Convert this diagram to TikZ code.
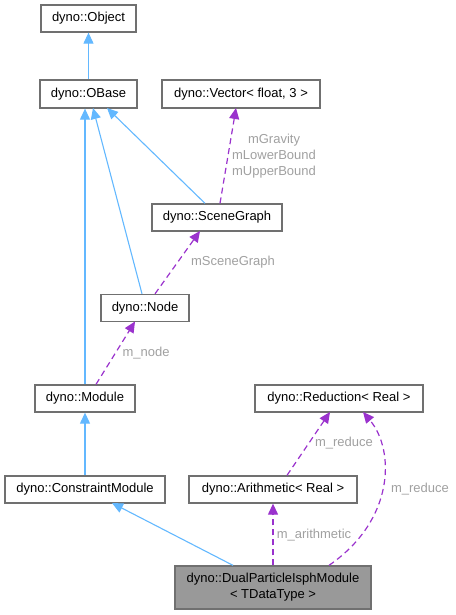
\documentclass[tikz,border=0pt]{standalone}
\usepackage{fontspec}
\setmainfont{Liberation Sans}
\usetikzlibrary{arrows.meta}
\definecolor{inh}{HTML}{63B8FF}
\definecolor{usg}{HTML}{9A32CD}
\definecolor{lbl}{HTML}{A0A0A0}
\definecolor{bord}{HTML}{707070}
\definecolor{cur}{HTML}{999999}
\tikzset{
  cls/.style={draw=bord, line width=1.3pt, fill=white, inner sep=0pt, font=\fontsize{13}{15}\selectfont, text=black},
  inhline/.style={draw=inh, line width=1.1pt, -{Triangle[length=11pt,width=10pt]}},
  useline/.style={draw=usg, line width=1.2pt, dash pattern=on 6pt off 4pt, -{Triangle[length=11pt,width=10pt]}},
  lab/.style={text=lbl, font=\fontsize{13}{16}\selectfont, inner sep=0pt, align=center}
}
\begin{document}
\begin{tikzpicture}[x=1pt,y=-1pt]
\useasboundingbox (0,0) rectangle (455,615);
\node[cls, minimum width=95pt, minimum height=27pt] (obj) at (88.5,18.5) {dyno::Object};
\node[cls, minimum width=97pt, minimum height=28pt] (obase) at (88.5,94) {dyno::OBase};
\node[cls, minimum width=158pt, minimum height=28pt] (vec) at (241,94) {dyno::Vector< float, 3 >};
\node[cls, minimum width=130pt, minimum height=27pt] (sg) at (217,217.5) {dyno::SceneGraph};
\node[cls, minimum width=88pt, minimum height=27pt] (nd) at (145,308) {dyno::Node};
\node[cls, minimum width=100pt, minimum height=27pt] (mod) at (85,398.5) {dyno::Module};
\node[cls, minimum width=168pt, minimum height=27pt] (red) at (339,398.5) {dyno::Reduction< Real >};
\node[cls, minimum width=160pt, minimum height=27pt] (cm) at (85,489.5) {dyno::ConstraintModule};
\node[cls, minimum width=168pt, minimum height=27pt] (ar) at (273,489.5) {dyno::Arithmetic< Real >};
\node[cls, fill=cur, minimum width=196pt, minimum height=43pt, align=center, font=\fontsize{13}{16}\selectfont] (dual) at (273,587.5) {dyno::DualParticleIsphModule\\< TDataType >};

% inheritance
\draw[inhline] (obase.north) -- (obj.south);
\draw[inhline] (mod.north) -- (mod.north |- obase.south);
\draw[inhline] (nd.north -| 142,0) -- (93,108);
\draw[inhline] (sg.north -| 205,0) -- (107,108);
\draw[inhline] (cm.north) -- (mod.south);
\draw[inhline] (dual.north -| 233,0) -- (112,503);

% usage
\draw[useline] (sg.north -| 220,0) -- (236,108);
\node[lab] (l1) at (274,156) {mGravity\\mLowerBound\\mUpperBound};
\draw[useline] (nd.north -| 155,0) -- (200,231);
\node[lab] (l2) at (233,262.5) {mSceneGraph};
\draw[useline] (mod.north -| 96,0) -- (135,321.5);
\node[lab] (l3) at (146,353.5) {m\_node};
\draw[useline] (dual.north) -- (ar.south);
\node[lab] (l4) at (314,535) {m\_arithmetic};
\draw[useline] (ar.north -| 287,0) -- (330,412);
\node[lab] (l5) at (344,443) {m\_reduce};
\draw[useline] (dual.north -| 329,0) .. controls (395,520) and (395,450) .. (363,412);
\node[lab] (l6) at (420,489.5) {m\_reduce};
\end{tikzpicture}
\end{document}
